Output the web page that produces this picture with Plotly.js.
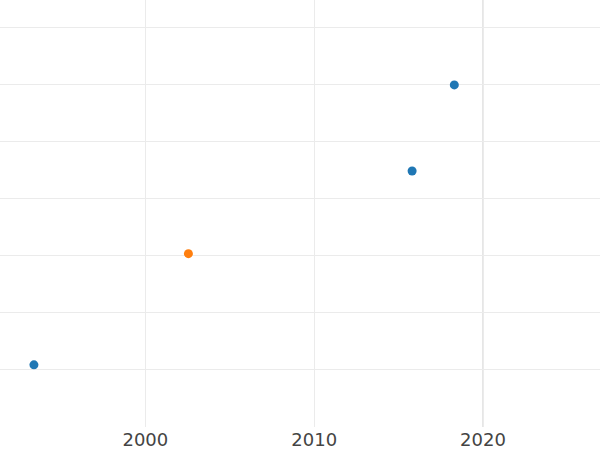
<!DOCTYPE html>
<html>
<head>
<meta charset="utf-8">
<script src="https://cdn.plot.ly/plotly-3.0.1.min.js"></script>
<style>html,body{margin:0;padding:0;background:#fff}#chart{width:600px;height:450px}</style>
</head>
<body>
<div id="chart"></div>
<script>
const blueYears = [1993.4, 2015.8, 2018.3];
const blueValues = [1.09, 4.49, 6.0];
const orangeYears = [2002.55];
const orangeValues = [3.04];
const xTicks = [2000, 2010, 2020];
const markerYear = 2020;

const data = [
  {type: 'scatter', mode: 'markers', x: blueYears, y: blueValues,
   marker: {color: '#1f77b4', size: 9}, showlegend: false, hoverinfo: 'skip'},
  {type: 'scatter', mode: 'markers', x: orangeYears, y: orangeValues,
   marker: {color: '#ff7f0e', size: 9}, showlegend: false, hoverinfo: 'skip'}
];
const layout = {
  width: 600, height: 450,
  margin: {l: 0, r: 0, t: 0, b: 23, pad: 0},
  paper_bgcolor: '#fff', plot_bgcolor: '#fff',
  xaxis: {range: [1991.39, 2026.93], tickvals: xTicks, ticktext: xTicks.map(String),
    showgrid: true, gridcolor: '#ebebeb', gridwidth: 1, zeroline: false, showline: false,
    ticks: '', tickfont: {family: 'DejaVu Sans', size: 18, color: '#444'}},
  yaxis: {range: [0, 7.49], dtick: 1, tick0: 0, showticklabels: false, showgrid: true,
    gridcolor: '#ebebeb', gridwidth: 1, zeroline: false, showline: false, ticks: ''},
  shapes: [{type: 'line', xref: 'x', yref: 'paper', x0: markerYear, x1: markerYear, y0: 0, y1: 1,
    line: {color: '#e6e6e6', width: 2}, layer: 'below'}]
};
Plotly.newPlot('chart', data, layout, {displayModeBar: false, staticPlot: true});
</script>
</body>
</html>
